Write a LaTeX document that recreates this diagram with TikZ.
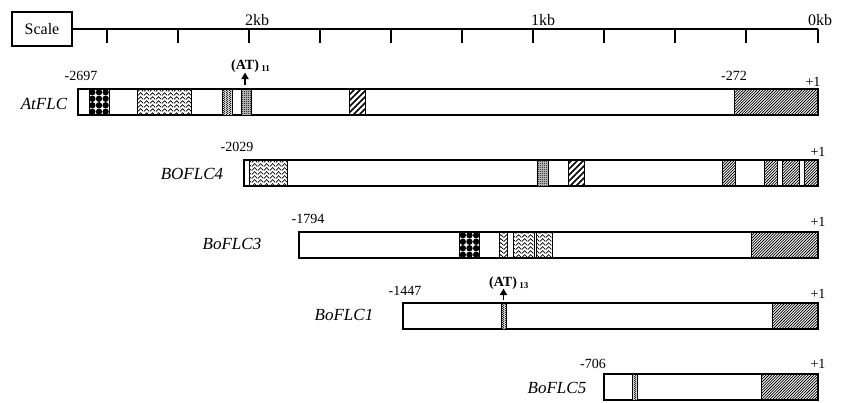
\documentclass[tikz,border=0pt]{standalone}
\usepackage{fontspec}
\setmainfont{Liberation Serif}
\usetikzlibrary{patterns,arrows.meta}
\pgfdeclarepatternformonly{wavy}{\pgfqpoint{0pt}{0pt}}{\pgfqpoint{6pt}{4.4pt}}{\pgfqpoint{6pt}{4.4pt}}{%
 \pgfsetlinewidth{0.75pt}%
 \pgfpathmoveto{\pgfqpoint{0pt}{0.6pt}}%
 \pgfpathcurveto{\pgfqpoint{1.5pt}{0.6pt}}{\pgfqpoint{1.5pt}{3.8pt}}{\pgfqpoint{3pt}{3.8pt}}%
 \pgfpathcurveto{\pgfqpoint{4.5pt}{3.8pt}}{\pgfqpoint{4.5pt}{0.6pt}}{\pgfqpoint{6pt}{0.6pt}}%
 \pgfusepath{stroke}}
\pgfdeclarepatternformonly{lightdots}{\pgfqpoint{0pt}{0pt}}{\pgfqpoint{2.4pt}{2.4pt}}{\pgfqpoint{2.4pt}{2.4pt}}{%
 \pgfpathcircle{\pgfqpoint{0.6pt}{0.6pt}}{0.6pt}%
 \pgfpathcircle{\pgfqpoint{1.8pt}{1.8pt}}{0.6pt}%
 \pgfusepath{fill}}
\pgfdeclarepatternformonly{darkdots}{\pgfqpoint{0pt}{0pt}}{\pgfqpoint{1.6pt}{1.6pt}}{\pgfqpoint{1.6pt}{1.6pt}}{%
 \pgfpathcircle{\pgfqpoint{0.8pt}{0.8pt}}{0.62pt}%
 \pgfusepath{fill}}
\pgfdeclarepatternformonly{widediag}{\pgfqpoint{-1pt}{-1pt}}{\pgfqpoint{7pt}{7pt}}{\pgfqpoint{6pt}{6pt}}{%
 \pgfsetlinewidth{1.5pt}%
 \pgfpathmoveto{\pgfqpoint{0pt}{0pt}}\pgfpathlineto{\pgfqpoint{6.1pt}{6.1pt}}%
 \pgfusepath{stroke}}
\pgfdeclarepatternformonly{finehatch}{\pgfqpoint{-1pt}{-1pt}}{\pgfqpoint{3.8pt}{3.8pt}}{\pgfqpoint{2.8pt}{2.8pt}}{%
 \pgfsetlinewidth{0.75pt}%
 \pgfpathmoveto{\pgfqpoint{0pt}{0pt}}\pgfpathlineto{\pgfqpoint{2.9pt}{2.9pt}}%
 \pgfusepath{stroke}}
\tikzset{
 barbox/.style={draw, line width=1.2pt, fill=white},
 segbox/.style={draw, line width=0.9pt},
 tickline/.style={line width=1.4pt},
 kblabel/.style={font=\fontsize{16}{16}\selectfont, inner sep=0pt, anchor=base west},
 genename/.style={font=\fontsize{17}{17}\selectfont\itshape, inner sep=0pt, anchor=base},
 poslabel/.style={font=\fontsize{14}{14}\selectfont, inner sep=0pt, anchor=base},
 atlabel/.style={font=\fontsize{14}{14}\selectfont\bfseries, inner sep=0pt, anchor=base west},
 atarrow/.style={line width=1.7pt, -{Triangle[width=7pt,length=6.5pt]}}
}
\newcommand{\dotgrid}[2]{%
 \foreach \i in {0,1,2}{\foreach \j in {0,1,2,3}{%
  \fill ({#1+3.35+6.65*\i},{#2+3.25+6.5*\j}) circle[radius=3.2pt];}}}
\newcommand{\seg}[5]{% pattern, x0, x1, y0, y1
 \draw[segbox, pattern=#1] (#2,#4) rectangle (#3,#5);}
\newcommand{\gseg}[6]{% background, pattern, x0, x1, y0, y1
 \fill[#1] (#3,#5) rectangle (#4,#6);
 \draw[segbox, pattern=#2] (#3,#5) rectangle (#4,#6);}
\begin{document}
\begin{tikzpicture}[x=1pt,y=-1pt]
\useasboundingbox (0,0) rectangle (849,402);
% scale
\node[draw, line width=1.2pt, minimum width=60pt, minimum height=34pt, inner sep=0pt,
 font=\fontsize{16}{16}\selectfont] (scalebox) at (42,29) {Scale};
\coordinate (scaleend) at (818,29);
\draw[line width=1.3pt] (scalebox.east) -- (scaleend);
\foreach \x in {107,178,249,320,391,462,533,604,675,746,818}{
 \draw[tickline] (\x,29) -- (\x,42.5);}
\node[kblabel] (kb2) at (245,25) {2kb};
\node[kblabel] (kb1) at (531,25) {1kb};
\node[kblabel] (kb0) at (808,25) {0kb};

% AtFLC
\draw[barbox] (78,89) rectangle (818,115);
\begin{scope}
 \clip (89,89) rectangle (109,115);
 \dotgrid{89}{89}
\end{scope}
\draw[segbox] (89,89) rectangle (109,115);
\seg{wavy}{137}{191}{89}{115}
\gseg{gray!35}{lightdots}{222.5}{232}{89}{115}
\gseg{gray!55}{darkdots}{241}{251}{89}{115}
\seg{widediag}{349.5}{365.5}{89}{115}
\seg{finehatch}{734}{818}{89}{115}
\node[genename] (atflc) at (44,109.5) {AtFLC};
\node[poslabel] (a1) at (81,80) {-2697};
\node[poslabel] (a2) at (734,80) {-272};
\node[poslabel] (a3) at (813,86) {+1};
\node[atlabel] (at11) at (231,69) {(AT)\,\raisebox{-2.5pt}{\fontsize{9}{9}\selectfont 11}};
\coordinate (at11base) at (245,85);
\coordinate (at11tip) at (245,72.5);
\draw[atarrow] (at11base) -- (at11tip);

% BOFLC4
\draw[barbox] (244,160) rectangle (818,186);
\seg{wavy}{249}{287}{160}{186}
\gseg{gray!55}{darkdots}{537.5}{548.5}{160}{186}
\seg{widediag}{568.5}{584.5}{160}{186}
\seg{finehatch}{722.5}{735}{160}{186}
\seg{finehatch}{764.5}{777}{160}{186}
\seg{finehatch}{782}{799}{160}{186}
\seg{finehatch}{804}{818}{160}{186}
\node[genename] (boflc4) at (192,179) {BOFLC4};
\node[poslabel] (b1) at (237,151.5) {-2029};
\node[poslabel] (b2) at (818,156) {+1};

% BoFLC3
\draw[barbox] (299,232) rectangle (818,258);
\begin{scope}
 \clip (459.5,232) rectangle (479.5,258);
 \dotgrid{459.5}{232}
\end{scope}
\draw[segbox] (459.5,232) rectangle (479.5,258);
\seg{wavy}{499.5}{507}{232}{258}
\seg{wavy}{513}{534}{232}{258}
\seg{wavy}{536}{552}{232}{258}
\seg{finehatch}{751}{818}{232}{258}
\node[genename] (boflc3) at (232,249) {BoFLC3};
\node[poslabel] (c1) at (308,223) {-1794};
\node[poslabel] (c2) at (818,226) {+1};

% BoFLC1
\draw[barbox] (403,303) rectangle (818,329);
\gseg{gray!35}{lightdots}{501.5}{506}{303}{329}
\seg{finehatch}{772}{818}{303}{329}
\node[genename] (boflc1) at (344,320) {BoFLC1};
\node[poslabel] (d1) at (405,295.5) {-1447};
\node[poslabel] (d2) at (818,298) {+1};
\node[atlabel] (at13) at (489,286) {(AT)\,\raisebox{-2.5pt}{\fontsize{9}{9}\selectfont 13}};
\coordinate (at13base) at (503.5,299.5);
\coordinate (at13tip) at (503.5,288.5);
\draw[atarrow] (at13base) -- (at13tip);

% BoFLC5
\draw[barbox] (604,374) rectangle (818,400);
\gseg{gray!35}{lightdots}{632}{637}{374}{400}
\seg{finehatch}{761}{818}{374}{400}
\node[genename] (boflc5) at (557,393) {BoFLC5};
\node[poslabel] (e1) at (593,368) {-706};
\node[poslabel] (e2) at (818,368) {+1};
\end{tikzpicture}
\end{document}
